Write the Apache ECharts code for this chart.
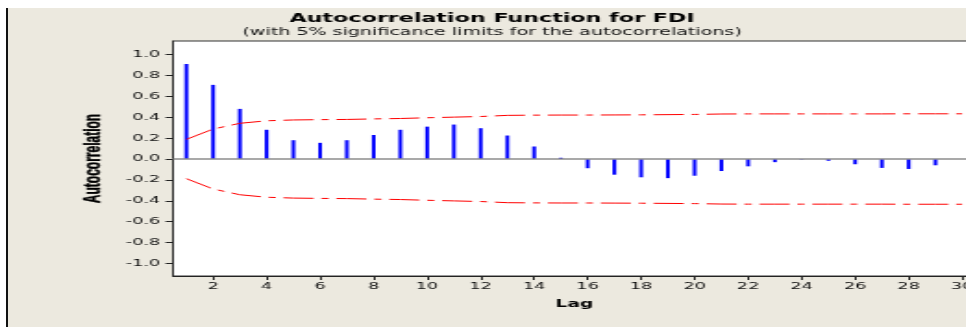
<!DOCTYPE html>
<html>
<head>
<meta charset="utf-8">
<script src="https://cdn.jsdelivr.net/npm/echarts@6/dist/echarts.min.js"></script>
<style>
  html, body { margin: 0; padding: 0; background: #fff; overflow: hidden; }
  #panel { position: absolute; left: 6px; top: 8px; width: 960px; height: 319px; background: #ece9df; border-left: 2px solid #111; }
  /* the source picture is stretched sideways, so the chart is drawn narrow and widened */
  #main { position: absolute; left: 0; top: 0; width: 523px; height: 327px; transform: scaleX(1.85); transform-origin: 0 0; }
</style>
</head>
<body>
<div id="panel"></div>
<div id="main"></div>
<script>
const lags = [1, 2, 3, 4, 5, 6, 7, 8, 9, 10, 11, 12, 13, 14, 15, 16, 17, 18, 19, 20, 21, 22, 23, 24, 25, 26, 27, 28, 29, 30]
const acf = [0.91, 0.71, 0.48, 0.28, 0.18, 0.155, 0.18, 0.23, 0.28, 0.31, 0.33, 0.295, 0.225, 0.12, 0.012,
  -0.088, -0.15, -0.175, -0.183, -0.16, -0.115, -0.07, -0.03, -0.004, -0.017, -0.05, -0.085, -0.095, -0.06, 0]
const upperLimit = [0.188, 0.287, 0.342, 0.366, 0.374, 0.377, 0.379, 0.384, 0.388, 0.395, 0.401, 0.407, 0.418, 0.42, 0.421,
  0.421, 0.422, 0.423, 0.425, 0.427, 0.431, 0.432, 0.432, 0.432, 0.432, 0.432, 0.432, 0.433, 0.433, 0.433]
const lowerLimit = [-0.188, -0.287, -0.342, -0.366, -0.374, -0.377, -0.379, -0.384, -0.388, -0.395, -0.401, -0.407, -0.418, -0.42, -0.421,
  -0.421, -0.422, -0.423, -0.425, -0.427, -0.431, -0.432, -0.432, -0.432, -0.432, -0.432, -0.432, -0.433, -0.433, -0.433]
const xTicks = [2, 4, 6, 8, 10, 12, 14, 16, 18, 20, 22, 24, 26, 28, 30]
const yTicks = [-1.0, -0.8, -0.6, -0.4, -0.2, 0.0, 0.2, 0.4, 0.6, 0.8, 1.0]

const font = 'DejaVu Sans'
const limitDash = [16.2, 4.3, 3.8, 4.3]

const chart = echarts.init(document.getElementById('main'))
chart.setOption({
  animation: false,
  title: {
    text: 'Autocorrelation Function for FDI',
    subtext: '(with 5% significance limits for the autocorrelations)',
    left: 266,
    top: 13,
    textAlign: 'center',
    padding: 0,
    itemGap: 2.5,
    textStyle: { fontFamily: font, fontWeight: 'bold', fontSize: 12, color: '#000' },
    subtextStyle: { fontFamily: font, fontSize: 10.3, color: '#111' }
  },
  grid: {
    left: 93.5, top: 41, width: 433.8, height: 235,
    outerBoundsMode: 'none',
    show: true, backgroundColor: '#fff', borderColor: '#333', borderWidth: 1
  },
  xAxis: {
    type: 'value', min: 0.5, max: 30.5,
    name: 'Lag', nameLocation: 'middle', nameGap: 23,
    nameTextStyle: { fontFamily: font, fontWeight: 'bold', fontSize: 10, color: '#000' },
    axisLine: { onZero: false, lineStyle: { color: '#222', width: 1 } },
    axisTick: { customValues: xTicks, length: 4, lineStyle: { color: '#222' } },
    axisLabel: { customValues: xTicks, margin: 6, fontFamily: font, fontSize: 9.5, color: '#111' },
    splitLine: { show: false }
  },
  yAxis: {
    type: 'value', min: -1.12, max: 1.13,
    name: 'Autocorrelation', nameLocation: 'middle', nameGap: 35.5,
    nameTextStyle: { fontFamily: 'Liberation Sans', fontWeight: 'bold', fontSize: 12, color: '#000',
      textBorderColor: '#000', textBorderWidth: 0.4 },
    axisLine: { show: true, lineStyle: { color: '#222', width: 1 } },
    axisTick: { show: true, customValues: yTicks, length: 4, lineStyle: { color: '#222' } },
    axisLabel: { customValues: yTicks, margin: 7, fontFamily: font, fontSize: 9.5, color: '#111',
      formatter: v => v.toFixed(1) },
    splitLine: { show: false }
  },
  series: [
    {
      type: 'bar',
      data: lags.map((l, i) => [l, acf[i]]),
      barWidth: 2,
      itemStyle: { color: '#0000ff' },
      markLine: {
        silent: true, symbol: ['none', 'none'], label: { show: false },
        lineStyle: { color: '#8c8c8c', width: 1.5, type: 'solid' },
        data: [{ yAxis: 0 }]
      }
    },
    {
      type: 'line',
      data: lags.map((l, i) => [l, upperLimit[i]]),
      showSymbol: false,
      lineStyle: { color: '#ff0000', width: 1, type: limitDash }
    },
    {
      type: 'line',
      data: lags.map((l, i) => [l, lowerLimit[i]]),
      showSymbol: false,
      lineStyle: { color: '#ff0000', width: 1, type: limitDash }
    }
  ]
})
</script>
</body>
</html>
